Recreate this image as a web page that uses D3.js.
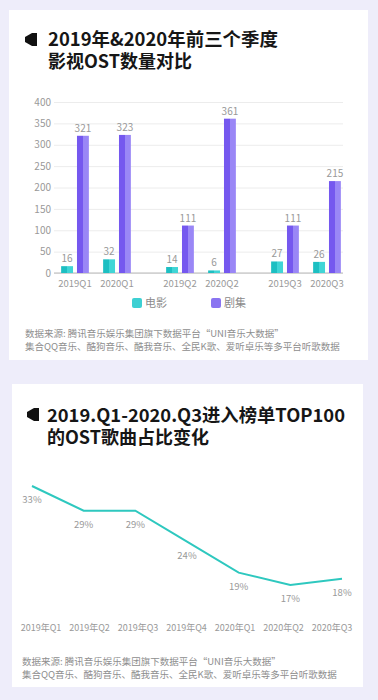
<!DOCTYPE html>
<html>
<head>
<meta charset="utf-8">
<script src="https://cdn.jsdelivr.net/npm/d3@7"></script>
<style>
  html, body { margin: 0; padding: 0; background: #eeedfa; }
  svg { display: block; font-family: "Noto Sans CJK SC", "Noto Sans", sans-serif; }
</style>
</head>
<body>
<div id="chart"></div>
<script>
// bar chart data (order: 2019Q1, 2020Q1, 2019Q2, 2020Q2, 2019Q3, 2020Q3)
const quarters = ["Q1", "Q2", "Q3"];
const years = ["2019", "2020"];
const seriesNames = ["电影", "剧集"];
const movieValues = [16, 32, 14, 6, 27, 26];
const dramaValues = [321, 323, 111, 361, 111, 215];
const barTicks = [0, 50, 100, 150, 200, 250, 300, 350, 400];

// line chart data
const lineLabels = ["2019年Q1", "2019年Q2", "2019年Q3", "2019年Q4", "2020年Q1", "2020年Q2", "2020年Q3"];
const lineValues = [33, 29, 29, 24, 19, 17, 18];

const source1 = "数据来源: 腾讯音乐娱乐集团旗下数据平台“UNI音乐大数据”";
const source2 = "集合QQ音乐、酷狗音乐、酷我音乐、全民K歌、爱听卓乐等多平台听歌数据";

const W = 378, H = 700;
const colors = {
  teal: ["#1dbfc2", "#40d5d6"],
  purple: ["#7558ef", "#9a87f6"]
};

let svg = d3.select("#chart").append("svg")
  .attr("width", W)
  .attr("height", H);

svg.append("rect").attr("width", W).attr("height", H).attr("fill", "#eeedfa");

// two-tone gradients for the bars
let defs = svg.append("defs");
[["tealGrad", colors.teal], ["purpleGrad", colors.purple]].forEach(function (g) {
  let lg = defs.append("linearGradient").attr("id", g[0])
    .attr("x1", "0%").attr("x2", "100%").attr("y1", "0%").attr("y2", "0%");
  lg.append("stop").attr("offset", "0%").attr("stop-color", g[1][0]);
  lg.append("stop").attr("offset", "50%").attr("stop-color", g[1][0]);
  lg.append("stop").attr("offset", "50%").attr("stop-color", g[1][1]);
  lg.append("stop").attr("offset", "100%").attr("stop-color", g[1][1]);
});

//cards
svg.append("rect").attr("x", 9).attr("y", 10).attr("width", 359).attr("height", 350).attr("fill", "#fff");
svg.append("rect").attr("x", 12).attr("y", 384).attr("width", 351).attr("height", 303).attr("fill", "#fff");

function titleBlock(x, y, lines, firstWidth, iconX, iconY) {
  svg.append("path")
    .attr("d", "M" + iconX + "," + (iconY + 4) +
      " L" + (iconX + 7) + "," + iconY +
      " L" + (iconX + 12) + "," + iconY +
      " L" + (iconX + 12) + "," + (iconY + 13) +
      " L" + (iconX + 7) + "," + (iconY + 13) +
      " L" + iconX + "," + (iconY + 9) + " Z")
    .attr("fill", "#111");
  lines.forEach(function (t, i) {
    let txt = svg.append("text")
      .attr("x", x)
      .attr("y", y + i * 22)
      .attr("font-size", "18px")
      .attr("font-weight", "bold")
      .attr("fill", "#161616")
      .text(t);
    if (i === 0) txt.attr("textLength", firstWidth).attr("lengthAdjust", "spacingAndGlyphs");
  });
}

function sourceBlock(x, y) {
  [source1, source2].forEach(function (t, i) {
    svg.append("text")
      .attr("x", x)
      .attr("y", y + i * 13)
      .attr("font-size", "9.5px")
      .attr("fill", "#8e8e8e")
      .text(t);
  });
}

// ---------- chart 1: grouped bars ----------
titleBlock(48, 46, ["2019年&2020年前三个季度", "影视OST数量对比"], 230, 25, 33);

let plotLeft = 54, plotRight = 343, plotTop = 102, plotBottom = 273;

let y = d3.scaleLinear().domain([0, 400]).range([plotBottom, plotTop]);

let x0 = d3.scaleBand().domain(quarters).range([plotLeft, 348]).paddingInner(0.2).paddingOuter(0);
let x1 = d3.scaleBand().domain(years).range([0, x0.bandwidth()]);
let xs = d3.scaleBand().domain(seriesNames).range([0, x1.bandwidth()]).paddingInner(0.25).paddingOuter(0.45);

let yAxis = svg.append("g")
  .attr("transform", "translate(" + plotLeft + ",0)")
  .call(d3.axisLeft(y).tickValues(barTicks).tickSize(-(plotRight - plotLeft)).tickPadding(3));
yAxis.select(".domain").remove();
yAxis.selectAll("line").attr("stroke", "#ececec");
yAxis.selectAll("text").attr("fill", "#999").attr("font-size", "10px").attr("font-family", "Noto Sans CJK SC");

svg.append("line")
  .attr("x1", plotLeft).attr("x2", plotRight)
  .attr("y1", y(0)).attr("y2", y(0))
  .attr("stroke", "#b8b8b8");

let barData = [];
quarters.forEach(function (q, qi) {
  years.forEach(function (yr, yi) {
    let idx = qi * 2 + yi;
    barData.push({q: q, year: yr, label: yr + q, movie: movieValues[idx], drama: dramaValues[idx]});
  });
});

let groups = svg.selectAll(".grp")
  .data(barData)
  .enter().append("g")
  .attr("class", "grp")
  .attr("transform", function (d) { return "translate(" + (x0(d.q) + x1(d.year)) + ",0)"; });

groups.selectAll("rect")
  .data(function (d) { return [{s: "电影", v: d.movie}, {s: "剧集", v: d.drama}]; })
  .enter().append("rect")
  .attr("x", function (d) { return xs(d.s); })
  .attr("width", xs.bandwidth())
  .attr("y", function (d) { return y(d.v); })
  .attr("height", function (d) { return y(0) - y(d.v); })
  .attr("fill", function (d) { return d.s === "电影" ? "url(#tealGrad)" : "url(#purpleGrad)"; });

groups.selectAll(".val")
  .data(function (d) { return [{s: "电影", v: d.movie}, {s: "剧集", v: d.drama}]; })
  .enter().append("text")
  .attr("class", "val")
  .attr("x", function (d) { return xs(d.s) + xs.bandwidth() / 2; })
  .attr("y", function (d) { return y(d.v) - 4; })
  .attr("text-anchor", "middle")
  .attr("font-size", "10px")
  .attr("fill", "#999")
  .text(function (d) { return d.v; });

groups.append("text")
  .attr("x", x1.bandwidth() / 2)
  .attr("y", plotBottom + 14)
  .attr("text-anchor", "middle")
  .attr("font-size", "9.5px")
  .attr("fill", "#999")
  .text(function (d) { return d.label; });

// legend
let legend = svg.selectAll(".legend")
  .data(seriesNames)
  .enter().append("g")
  .attr("class", "legend")
  .attr("transform", function (d, i) { return "translate(" + (132 + i * 79) + ",298)"; });
legend.append("rect")
  .attr("width", 10).attr("height", 10).attr("rx", 2)
  .attr("fill", function (d, i) { return i === 0 ? "#3dd0d3" : "#8a74f1"; });
legend.append("text")
  .attr("x", 13).attr("y", 9)
  .attr("font-size", "11px")
  .attr("fill", "#8a8a8a")
  .text(function (d) { return d; });

sourceBlock(25, 337);

// ---------- chart 2: line ----------
titleBlock(47, 422, ["2019.Q1-2020.Q3进入榜单TOP100", "的OST歌曲占比变化"], 298, 27, 408);

let lx = d3.scalePoint().domain(lineLabels).range([32, 342]);
let lxLabel = d3.scalePoint().domain(lineLabels).range([41, 332]);
let ly = d3.scaleLinear().domain([17, 33]).range([585, 486]);

let line = d3.line()
  .x(function (d, i) { return lx(lineLabels[i]); })
  .y(function (d) { return ly(d); });

svg.append("path")
  .datum(lineValues)
  .attr("d", line)
  .attr("fill", "none")
  .attr("stroke", "#2ec8bf")
  .attr("stroke-width", 2);

svg.selectAll(".pct")
  .data(lineValues)
  .enter().append("text")
  .attr("class", "pct")
  .attr("x", function (d, i) { return lx(lineLabels[i]); })
  .attr("y", function (d) { return ly(d) + 17; })
  .attr("text-anchor", "middle")
  .attr("font-size", "9.5px")
  .attr("fill", "#999")
  .text(function (d) { return d + "%"; });

svg.selectAll(".xl")
  .data(lineLabels)
  .enter().append("text")
  .attr("class", "xl")
  .attr("x", function (d) { return lxLabel(d); })
  .attr("y", 631)
  .attr("text-anchor", "middle")
  .attr("font-size", "9px")
  .attr("fill", "#999")
  .text(function (d) { return d; });

sourceBlock(22, 665);
</script>
</body>
</html>
